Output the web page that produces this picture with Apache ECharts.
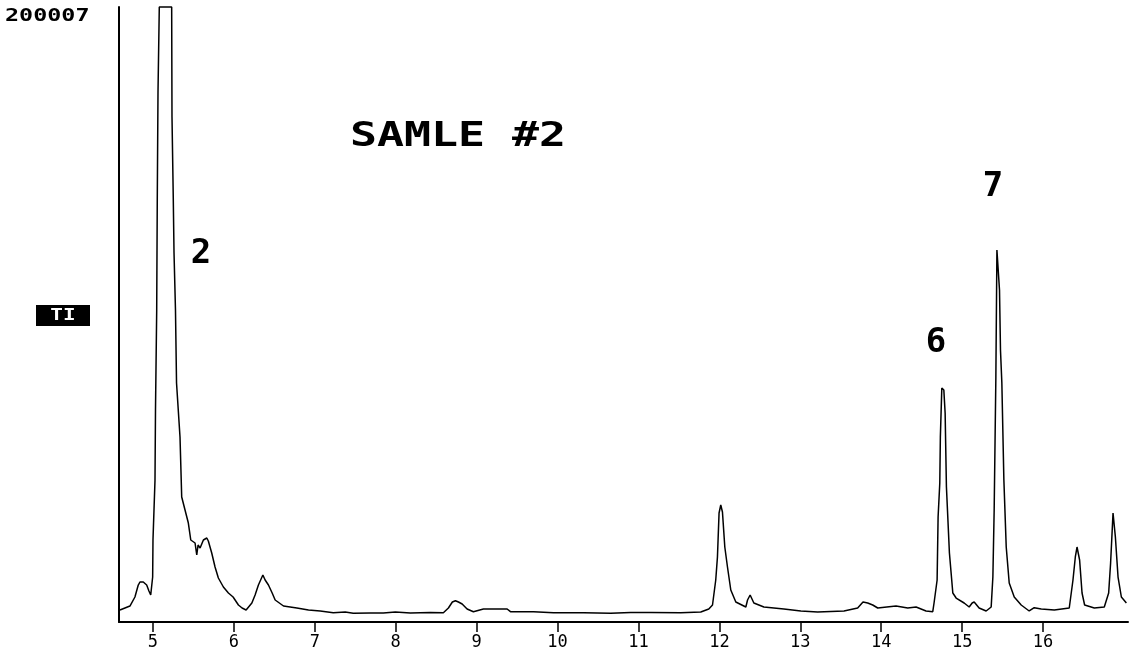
<!DOCTYPE html>
<html>
<head>
<meta charset="utf-8">
<script src="https://cdn.jsdelivr.net/npm/echarts@6/dist/echarts.min.js"></script>
<style>html,body{margin:0;padding:0;background:#fff;}#chart{width:1132px;height:655px;}</style>
</head>
<body>
<div id="chart"></div>
<script>
// Retention time (minutes)
var times = [4.592,4.715,4.777,4.818,4.839,4.880,4.922,4.950,4.972,4.996,5.000,5.025,5.031,5.046,5.053,5.062,5.078,5.231,5.235,5.251,5.260,5.278,5.291,5.334,5.355,5.396,5.437,5.467,5.520,5.541,5.557,5.582,5.623,5.665,5.684,5.726,5.767,5.808,5.870,5.932,5.990,6.056,6.101,6.151,6.222,6.262,6.303,6.358,6.386,6.427,6.473,6.510,6.613,6.778,6.922,7.067,7.228,7.376,7.475,7.686,7.847,7.995,8.181,8.428,8.589,8.651,8.700,8.738,8.775,8.821,8.882,8.960,9.084,9.377,9.418,9.703,9.950,10.322,10.656,10.903,11.151,11.522,11.770,11.869,11.915,11.955,11.976,11.996,12.017,12.038,12.067,12.100,12.141,12.203,12.327,12.348,12.380,12.426,12.550,12.797,13.007,13.214,13.540,13.709,13.775,13.833,13.895,13.957,14.097,14.183,14.328,14.431,14.554,14.637,14.653,14.691,14.703,14.724,14.731,14.749,14.774,14.790,14.806,14.843,14.885,14.926,15.025,15.087,15.124,15.149,15.210,15.297,15.359,15.380,15.396,15.417,15.430,15.449,15.462,15.474,15.491,15.516,15.545,15.582,15.644,15.730,15.829,15.891,15.978,16.139,16.324,16.370,16.399,16.420,16.452,16.482,16.514,16.634,16.757,16.811,16.835,16.865,16.894,16.927,16.968,17.030];
// Total ion intensity (counts)
var intensity = [3900,5200,8130,12030,13010,13010,12030,10080,8780,14630,26670,46180,68940,101460,137230,172360,200007,200007,164230,137230,120000,101460,77720,60160,40650,36420,32190,26670,25690,21790,25040,24060,26670,27320,26340,22440,17890,14310,11380,9430,8130,5530,4550,3900,6180,8780,12030,15280,13660,12030,9430,7150,5200,4550,3900,3580,3020,3250,2830,2930,2930,3250,2930,3090,3020,4550,6500,6930,6500,5850,4230,3350,4230,4230,3350,3350,3020,3020,2830,3090,3090,3020,3250,4230,5530,13660,21140,35450,38050,35770,24390,17890,10410,6500,4880,7150,8780,6180,4880,4230,3580,3250,3580,4550,6500,6180,5530,4550,4980,5200,4550,4880,3580,3350,6180,13660,34150,45200,60160,76100,75450,67970,43900,22440,9430,7800,6180,4880,6180,6500,4550,3580,4880,14630,36420,79670,120970,120970,107970,88450,77720,46180,24390,12680,8130,5530,3580,4650,4230,3900,4550,13660,21140,24390,20160,9430,5530,4550,4880,9430,19190,35450,27640,14630,8130,6180];
// Axis tick labels
var xTicks = [5,6,7,8,9,10,11,12,13,14,15,16];
var yMax = 200007;
var titleText = 'SAMLE #2';
var peakLabels = ['2','6','7'];

var data = times.map(function(t,i){ return [t, intensity[i]]; });
var mono = '"DejaVu Sans Mono", "Liberation Mono", monospace';

var chart = echarts.init(document.getElementById('chart'));
chart.setOption({
  animation: false,
  backgroundColor: '#fff',
  grid: {left: 119, right: 4, top: 7, bottom: 33},
  xAxis: {
    type: 'value', min: 4.58, max: 17.05,
    axisLine: {show: true, lineStyle: {color: '#000', width: 2}},
    axisTick: {show: true, customValues: xTicks, length: 10, lineStyle: {color: '#000', width: 1.5}},
    axisLabel: {customValues: xTicks, color: '#000', fontFamily: mono, fontSize: 17, margin: 12},
    splitLine: {show: false}
  },
  yAxis: {
    type: 'value', min: 0, max: yMax,
    axisLine: {show: true, lineStyle: {color: '#000', width: 2}},
    axisTick: {show: false}, axisLabel: {show: false}, splitLine: {show: false}
  },
  series: [{
    type: 'line', data: data, showSymbol: false, smooth: false, clip: false,
    lineStyle: {color: '#000', width: 1.5}
  }],
  graphic: [
    {type: 'text', x: 5, y: 7, style: {text: String(yMax), font: 'bold 18px ' + mono, fill: '#000'}, scaleX: 1.3},
    {type: 'rect', shape: {x: 36, y: 305, width: 54, height: 21}, style: {fill: '#000'}},
    {type: 'text', x: 63, y: 316, style: {text: 'TI', font: 'bold 15px ' + mono, fill: '#fff', align: 'center', verticalAlign: 'middle'}, scaleX: 1.4},
    {type: 'text', x: 458, y: 137, style: {text: titleText, font: 'bold 34px ' + mono, fill: '#000', align: 'center', verticalAlign: 'middle'}, scaleX: 1.32},
    {type: 'text', x: 201, y: 254, style: {text: peakLabels[0], font: 'bold 34px ' + mono, fill: '#000', align: 'center', verticalAlign: 'middle'}},
    {type: 'text', x: 936, y: 343, style: {text: peakLabels[1], font: 'bold 34px ' + mono, fill: '#000', align: 'center', verticalAlign: 'middle'}},
    {type: 'text', x: 993, y: 187, style: {text: peakLabels[2], font: 'bold 34px ' + mono, fill: '#000', align: 'center', verticalAlign: 'middle'}}
  ]
});
</script>
</body>
</html>
